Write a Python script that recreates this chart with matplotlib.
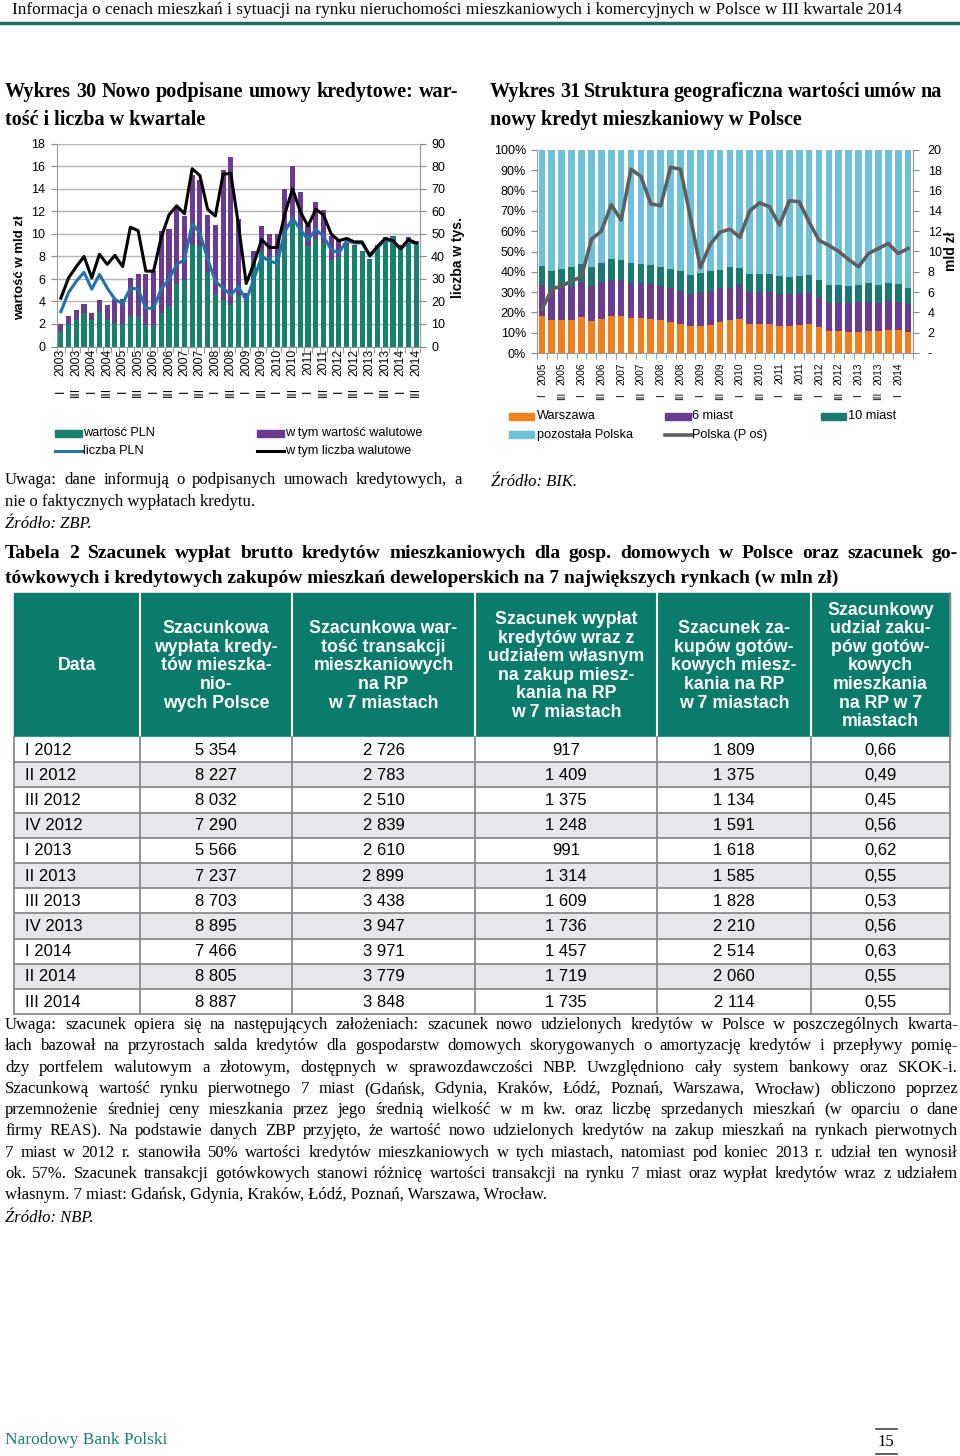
import numpy as np
import matplotlib
matplotlib.use("Agg")
import matplotlib.pyplot as plt
from matplotlib.patches import Rectangle

plt.rcParams['font.family'] = ['Liberation Sans', 'DejaVu Sans']
SERIF = ['Liberation Serif', 'DejaVu Serif']

# ---------------- data: Wykres 30 (ZBP) ----------------
lata_30 = list(range(2003, 2015))
kwartaly_30 = [(q, r) for r in lata_30 for q in ("I", "II", "III", "IV")][:47]
wartosc_pln = [1.35, 2.0, 2.4, 3.0, 2.4, 3.1, 2.4, 2.1, 2.0, 2.75, 2.6, 1.95, 1.8, 2.95,
               3.6, 5.6, 5.9, 9.1, 8.9, 6.6, 4.7, 4.15, 3.7, 4.5, 4.1, 7.8, 8.5, 7.95,
               8.1, 10.3, 11.1, 10.3, 8.9, 9.6, 9.2, 7.7, 8.0, 9.0, 8.9, 8.4, 7.7, 8.9,
               9.6, 9.7, 8.9, 9.65, 9.3]
wartosc_walut = [0.65, 0.7, 0.85, 0.8, 0.6, 1.0, 1.3, 2.1, 2.2, 3.3, 3.85, 4.45, 4.9, 7.3,
                 6.85, 6.8, 5.7, 6.1, 5.9, 5.1, 6.1, 11.5, 13.15, 6.8, 0.7, 0.7, 2.2, 2.05,
                 1.9, 3.7, 4.9, 3.4, 1.9, 3.2, 2.9, 2.1, 1.5, 0.2, 0.1, 0.1, 0.1, 0.1,
                 0.1, 0.1, 0.1, 0.1, 0.1]
liczba_pln = [15.5, 24.0, 29.0, 33.0, 25.5, 32.0, 26.0, 21.0, 19.0, 26.0, 25.5, 17.0, 17.0,
              25.5, 30.0, 36.5, 38.5, 54.5, 50.5, 39.0, 29.0, 26.0, 23.0, 26.5, 20.5, 30.0,
              40.0, 38.0, 37.0, 51.0, 57.0, 52.0, 47.5, 52.0, 49.0, 43.0, 41.5, 47.0, 46.0,
              46.0, 40.0, 44.0, 47.5, 46.5, 43.0, 47.0, 45.5]
liczba_walut = [21.5, 30.5, 35.5, 40.0, 30.5, 41.0, 36.5, 40.5, 35.5, 53.0, 51.5, 33.5, 33.5,
                48.5, 58.5, 62.5, 59.0, 79.0, 76.0, 61.0, 58.0, 76.5, 77.0, 54.0, 28.0, 37.0,
                47.5, 44.0, 44.0, 59.0, 70.0, 60.0, 53.5, 61.0, 58.5, 50.0, 47.0, 48.0, 46.5,
                46.5, 40.5, 44.5, 48.0, 47.0, 43.5, 47.5, 46.0]

# ---------------- data: Wykres 31 (BIK) ----------------
kwartaly_31 = [(q, r) for r in range(2005, 2015) for q in ("I", "II", "III", "IV")][:38]
warszawa = [18.0, 16.1, 16.4, 16.4, 17.5, 15.9, 16.9, 18.0, 18.0, 17.2, 17.2, 16.9, 16.1,
            15.2, 14.4, 13.4, 13.4, 13.9, 15.1, 16.3, 16.6, 14.2, 14.2, 14.5, 13.4, 13.4,
            13.9, 14.2, 12.7, 10.6, 10.9, 10.4, 10.4, 10.9, 10.9, 11.3, 11.3, 10.3]
miast_6 = [15.6, 15.0, 15.9, 16.4, 17.3, 17.2, 18.3, 18.1, 18.1, 17.2, 17.2, 17.2, 17.0,
           16.8, 15.9, 15.8, 16.1, 16.4, 16.9, 15.5, 16.8, 16.0, 16.0, 15.7, 15.5, 15.5,
           15.5, 15.2, 14.7, 14.2, 13.9, 14.4, 14.6, 14.4, 13.9, 14.3, 14.0, 13.8]
miast_10 = [9.5, 9.1, 9.0, 9.5, 9.0, 9.2, 9.1, 10.1, 9.5, 9.9, 9.5, 9.2, 9.5, 9.3, 9.9,
            9.3, 9.8, 9.9, 9.0, 10.6, 8.5, 8.6, 8.5, 8.6, 9.1, 8.3, 8.3, 8.9, 8.8, 8.6,
            8.6, 8.3, 8.4, 9.1, 8.6, 8.7, 8.6, 8.0]
pozostala = [56.9, 59.8, 58.7, 57.7, 56.2, 57.7, 55.7, 53.8, 54.4, 55.7, 56.1, 56.7, 57.4,
             58.7, 59.8, 61.5, 60.7, 59.8, 59.0, 57.6, 58.1, 61.2, 61.3, 61.2, 62.0, 62.8,
             62.3, 61.7, 63.8, 66.6, 66.6, 66.9, 66.6, 65.6, 66.6, 65.7, 66.1, 67.9]
polska_mld = [4.3, 6.3, 6.6, 7.1, 7.5, 11.2, 12.0, 14.6, 13.1, 18.1, 17.4, 14.7, 14.5, 18.3,
              18.1, 13.4, 8.4, 10.7, 11.9, 12.2, 11.4, 14.0, 14.8, 14.4, 12.6, 15.0, 14.9,
              12.9, 11.1, 10.6, 10.0, 9.2, 8.5, 9.8, 10.3, 10.8, 9.8, 10.3]

# ---------------- data: Tabela 2 ----------------
okresy = ["I 2012", "II 2012", "III 2012", "IV 2012", "I 2013", "II 2013", "III 2013",
          "IV 2013", "I 2014", "II 2014", "III 2014"]
wyplata_polska = [5354, 8227, 8032, 7290, 5566, 7237, 8703, 8895, 7466, 8805, 8887]
wartosc_rp_7m = [2726, 2783, 2510, 2839, 2610, 2899, 3438, 3947, 3971, 3779, 3848]
kredyty_rp_7m = [917, 1409, 1375, 1248, 991, 1314, 1609, 1736, 1457, 1719, 1735]
gotowka_rp_7m = [1809, 1375, 1134, 1591, 1618, 1585, 1828, 2210, 2514, 2060, 2114]
udzial_gotowki = [0.66, 0.49, 0.45, 0.56, 0.62, 0.55, 0.53, 0.56, 0.63, 0.55, 0.55]

naglowki = ["Data",
            "Szacunkowa\nwypłata kredy-\ntów mieszka-\nnio-\nwych Polsce",
            "Szacunkowa war-\ntość transakcji\nmieszkaniowych\nna RP\nw 7 miastach",
            "Szacunek wypłat\nkredytów wraz z\nudziałem własnym\nna zakup miesz-\nkania na RP\nw 7 miastach",
            "Szacunek za-\nkupów gotów-\nkowych miesz-\nkania na RP\nw 7 miastach",
            "Szacunkowy\nudział zaku-\npów gotów-\nkowych\nmieszkania\nna RP w 7\nmiastach"]

uwagi = [
    "Uwaga: szacunek opiera się na następujących założeniach: szacunek nowo udzielonych kredytów w Polsce w poszczególnych kwarta-",
    "łach bazował na przyrostach salda kredytów dla gospodarstw domowych skorygowanych o amortyzację kredytów i przepływy pomię-",
    "dzy portfelem walutowym a złotowym, dostępnych w sprawozdawczości NBP. Uwzględniono cały system bankowy oraz SKOK-i.",
    "Szacunkową wartość rynku pierwotnego 7 miast (Gdańsk, Gdynia, Kraków, Łódź, Poznań, Warszawa, Wrocław) obliczono poprzez",
    "przemnożenie średniej ceny mieszkania przez jego średnią wielkość w m kw. oraz liczbę sprzedanych mieszkań (w oparciu o dane",
    "firmy REAS). Na podstawie danych ZBP przyjęto, że wartość nowo udzielonych kredytów na zakup mieszkań na rynkach pierwotnych",
    "7 miast w 2012 r. stanowiła 50% wartości kredytów mieszkaniowych w tych miastach, natomiast pod koniec 2013 r. udział ten wynosił",
    "ok. 57%. Szacunek transakcji gotówkowych stanowi różnicę wartości transakcji na rynku 7 miast oraz wypłat kredytów wraz z udziałem",
    "własnym. 7 miast: Gdańsk, Gdynia, Kraków, Łódź, Poznań, Warszawa, Wrocław.",
]

TEAL = "#17806f"
PURPLE = "#6b3b8f"
BLUE = "#2173a8"
ORANGE = "#f07f1e"
LIGHTBLUE = "#6ec1d9"
TEAL31 = "#1b7a6e"
GRID = "#b5b5b5"
AXC = "#999999"

W, H = 960, 1456
fig = plt.figure(figsize=(W / 100, H / 100), dpi=100)
page = fig.add_axes([0, 0, 1, 1])
page.set_xlim(0, W)
page.set_ylim(H, 0)
page.axis("off")
renderer = fig.canvas.get_renderer()


def ptxt(x, y, s, **kw):
    kw.setdefault("va", "center")
    return page.text(x, y, s, **kw)


def justify(x0, x1, y, line, **kw):
    words = line.split(" ")
    widths = []
    for w in words:
        t = page.text(0, 0, w, **kw)
        widths.append(t.get_window_extent(renderer).width)
        t.remove()
    gap = (x1 - x0 - sum(widths)) / max(len(words) - 1, 1)
    x = x0
    for w, wd in zip(words, widths):
        page.text(x, y, w, va="center", ha="left", **kw)
        x += wd + gap


def fig_axes(x0, y0, x1, y1):
    return fig.add_axes([x0 / W, 1 - y1 / H, (x1 - x0) / W, (y1 - y0) / H])


def quarter_labels(ax, kw, fs, pad, num_y):
    # year next to the axis, roman numeral of the quarter further down
    pos = np.arange(len(kw))[::2]
    ax.set_xticks(pos)
    ax.set_xticklabels([str(r) for q, r in kw[::2]], rotation=90, fontsize=fs)
    ax.set_xticks(np.arange(-0.5, len(kw), 1), minor=True)
    ax.tick_params(axis="x", which="major", length=0, pad=pad)
    ax.tick_params(axis="x", which="minor", length=4, color="#888888")
    for p, (q, r) in zip(pos, kw[::2]):
        ax.text(p, num_y, q, transform=ax.get_xaxis_transform(), rotation=90,
                ha="center", va="center", fontsize=fs)


# ---------------- page header ----------------
ptxt(12, 10, "Informacja o cenach mieszkań i sytuacji na rynku nieruchomości mieszkaniowych "
     "i komercyjnych w Polsce w III kwartale 2014", family=SERIF, fontsize=12.4)
page.plot([0, W], [23, 23], color="#1d6b5f", lw=2.5)

tfont = dict(family=SERIF, fontsize=14.5, fontweight="bold")
justify(5, 458, 92, "Wykres 30 Nowo podpisane umowy kredytowe: war-", **tfont)
ptxt(5, 120, "tość i liczba w kwartale", **tfont)
justify(490, 942, 92, "Wykres 31 Struktura geograficzna wartości umów na", **tfont)
ptxt(490, 120, "nowy kredyt mieszkaniowy w Polsce", **tfont)

# ---------------- Wykres 30 ----------------
ax1 = fig_axes(57, 144, 420, 346.5)
x30 = np.arange(len(kwartaly_30))
ax1.bar(x30, wartosc_pln, width=0.66, color=TEAL, zorder=2)
ax1.bar(x30, wartosc_walut, width=0.66, bottom=wartosc_pln, color=PURPLE, zorder=2)
ax1.set_xlim(-0.5, len(kwartaly_30) - 0.5)
ax1.set_ylim(0, 18)
ax1.set_yticks(range(0, 19, 2))
ax1.yaxis.grid(True, color=GRID, lw=1)
ax1.set_axisbelow(True)
quarter_labels(ax1, kwartaly_30, 8.8, 1.5, -0.223)
ax1.tick_params(axis="y", labelsize=9, length=4, color="#888888", pad=4.5)
ax1.spines["top"].set_visible(False)
for s in ("left", "bottom", "right"):
    ax1.spines[s].set_color(AXC)

ax1b = ax1.twinx()
ax1b.plot(x30, liczba_pln, color=BLUE, lw=2.2, zorder=3)
ax1b.plot(x30, liczba_walut, color="black", lw=2.2, zorder=4)
ax1b.set_ylim(0, 90)
ax1b.set_yticks(range(0, 91, 10))
ax1b.tick_params(axis="y", labelsize=9, length=4, color="#888888", pad=4)
for s in ("top", "left", "bottom"):
    ax1b.spines[s].set_visible(False)
ax1b.spines["right"].set_color(AXC)

ptxt(20, 268, "wartość w mld zł", rotation=90, ha="center", fontsize=9.5, fontweight="bold")
ptxt(458, 258, "liczba w tys.", rotation=90, ha="center", fontsize=10, fontweight="bold")

# legend 30
lfont = dict(fontsize=9.2)
page.add_patch(Rectangle((55, 429.5), 27, 7, color=TEAL))
ptxt(83, 433, "wartość PLN", **lfont)
page.add_patch(Rectangle((257, 429.5), 27, 7, color=PURPLE))
ptxt(285, 433, "w tym wartość walutowe", **lfont)
page.plot([55, 82], [451, 451], color=BLUE, lw=2.2)
ptxt(83, 451, "liczba PLN", **lfont)
page.plot([257, 284], [451, 451], color="black", lw=2.2)
ptxt(285, 451, "w tym liczba walutowe", **lfont)

nfont = dict(family=SERIF, fontsize=12)
justify(5, 462, 480, "Uwaga: dane informują o podpisanych umowach kredytowych, a", **nfont)
ptxt(5, 502, "nie o faktycznych wypłatach kredytu.", **nfont)
ptxt(5, 524, "Źródło: ZBP.", style="italic", **nfont)

# ---------------- Wykres 31 ----------------
ax2 = fig_axes(537, 150, 913, 353)
x31 = np.arange(len(kwartaly_31))
bw = 0.68
b1 = np.array(warszawa)
b2 = b1 + np.array(miast_6)
b3 = b2 + np.array(miast_10)
ax2.bar(x31, warszawa, width=bw, color=ORANGE, zorder=2)
ax2.bar(x31, miast_6, width=bw, bottom=b1, color=PURPLE, zorder=2)
ax2.bar(x31, miast_10, width=bw, bottom=b2, color=TEAL31, zorder=2)
ax2.bar(x31, pozostala, width=bw, bottom=b3, color=LIGHTBLUE, zorder=2)
ax2.set_xlim(-0.5, len(kwartaly_31) - 0.5)
ax2.set_ylim(0, 100)
ax2.set_yticks(range(0, 101, 10))
ax2.set_yticklabels([f"{v}%" for v in range(0, 101, 10)])
quarter_labels(ax2, kwartaly_31, 7.2, 7, -0.212)
ax2.tick_params(axis="y", labelsize=9, length=4, color="#888888", pad=4)
ax2.spines["top"].set_visible(False)
for s in ("left", "bottom", "right"):
    ax2.spines[s].set_color(AXC)

ax2b = ax2.twinx()
ax2b.plot(x31, polska_mld, color="#5f5f5f", lw=2.6, zorder=5)
ax2b.set_ylim(0, 20)
ax2b.set_yticks(range(0, 21, 2))
ax2b.set_yticklabels(["-"] + [str(v) for v in range(2, 21, 2)])
ax2b.tick_params(axis="y", labelsize=9, length=4, color="#888888", pad=6.5)
for s in ("top", "left", "bottom"):
    ax2b.spines[s].set_visible(False)
ax2b.spines["right"].set_color(AXC)
ptxt(951, 251, "mld zł", rotation=90, ha="center", fontsize=10, fontweight="bold")

# legend 31
page.add_patch(Rectangle((509, 412.5), 25, 7, color=ORANGE))
ptxt(537, 416, "Warszawa", **lfont)
page.add_patch(Rectangle((665, 412.5), 26, 7, color=PURPLE))
ptxt(692, 416, "6 miast", **lfont)
page.add_patch(Rectangle((821, 412.5), 25, 7, color=TEAL31))
ptxt(848, 416, "10 miast", **lfont)
page.add_patch(Rectangle((509, 431), 25, 7, color=LIGHTBLUE))
ptxt(537, 435, "pozostała Polska", **lfont)
page.plot([665, 691], [435, 435], color="#5f5f5f", lw=2.6)
ptxt(692, 435, "Polska (P oś)", **lfont)

ptxt(491, 482, "Źródło: BIK.", style="italic", **nfont)

# ---------------- Tabela 2 ----------------
tbfont = dict(family=SERIF, fontsize=14, fontweight="bold")
justify(5, 958, 553, "Tabela 2 Szacunek wypłat brutto kredytów mieszkaniowych dla gosp. "
        "domowych w Polsce oraz szacunek go-", **tbfont)
ptxt(5, 578, "tówkowych i kredytowych zakupów mieszkań deweloperskich na 7 największych "
     "rynkach (w mln zł)", **tbfont)

cols = [14, 140, 292, 475, 657, 811, 950]
head_top, head_bot = 593, 737
row_h = 25.2
page.add_patch(Rectangle((cols[0], head_top), cols[-1] - cols[0], head_bot - head_top,
                         color="#0b7c6c", zorder=1))
for c in cols[1:-1]:
    page.plot([c, c], [head_top, head_bot], color="white", lw=1.5, zorder=2)
for j, h in enumerate(naglowki):
    cx = (cols[j] + cols[j + 1]) / 2
    ptxt(cx, (head_top + head_bot) / 2 + 1, h, ha="center", color="white",
         fontweight="bold", fontsize=12.8, linespacing=1.12, zorder=3)

for i, okres in enumerate(okresy):
    y0 = head_bot + i * row_h
    fc = "white" if i % 2 == 0 else "#e6e6eb"
    page.add_patch(Rectangle((cols[0], y0), cols[-1] - cols[0], row_h, color=fc, zorder=1))
    yc = y0 + row_h / 2 + 0.5
    vals = [wyplata_polska[i], wartosc_rp_7m[i], kredyty_rp_7m[i], gotowka_rp_7m[i]]
    ptxt(25, yc, okres, fontsize=12, zorder=3)
    for j, v in enumerate(vals):
        cx = (cols[j + 1] + cols[j + 2]) / 2
        ptxt(cx, yc, f"{v:,}".replace(",", " "), ha="center", fontsize=12, zorder=3)
    ptxt((cols[5] + cols[6]) / 2, yc, f"{udzial_gotowki[i]:.2f}".replace(".", ","),
         ha="center", fontsize=12, zorder=3)

tab_bot = head_bot + len(okresy) * row_h
for i in range(1, len(okresy) + 1):
    yy = head_bot + i * row_h
    page.plot([cols[0], cols[-1]], [yy, yy], color="#8a8a8a", lw=1.3, zorder=2)
for c in cols:
    page.plot([c, c], [head_bot, tab_bot], color="#8a8a8a", lw=1.3, zorder=2)
page.plot([cols[-1], cols[-1]], [head_top, head_bot], color="#8a8a8a", lw=1.3, zorder=2)

# ---------------- uwagi ----------------
y = 1025
for k, line in enumerate(uwagi):
    if k < len(uwagi) - 1:
        justify(5, 958, y, line, **nfont)
    else:
        ptxt(5, y, line, **nfont)
    y += 21.3
ptxt(5, 1218, "Źródło: NBP.", style="italic", **nfont)

# ---------------- stopka ----------------
ptxt(5, 1440, "Narodowy Bank Polski", color="#1a7f6f", family=SERIF, fontsize=12.5)
ptxt(886, 1442, "15", ha="center", family=SERIF, fontsize=12)
page.plot([876, 897], [1429, 1429], color="#444444", lw=1.2)
page.plot([876, 897], [1454, 1454], color="#444444", lw=1.2)

fig.savefig("out.png", dpi=100)
